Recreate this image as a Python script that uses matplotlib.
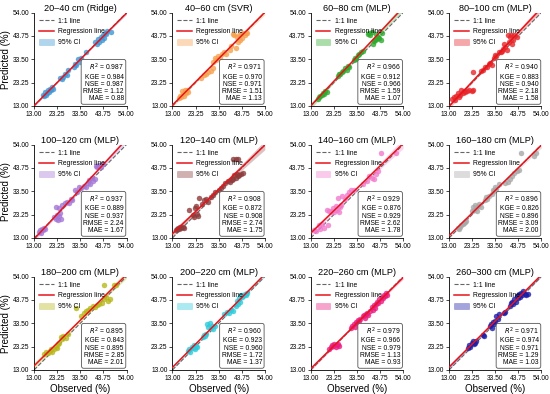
import numpy as np
import matplotlib
matplotlib.use("Agg")
from matplotlib import pyplot as plt
from matplotlib.patches import Patch
from matplotlib.lines import Line2D

plt.rcParams['font.family'] = ['Liberation Sans', 'DejaVu Sans']

titles = ["20–40 cm (Ridge)", "40–60 cm (SVR)", "60–80 cm (MLP)", "80–100 cm (MLP)",
          "100–120 cm (MLP)", "120–140 cm (MLP)", "140–160 cm (MLP)", "160–180 cm (MLP)",
          "180–200 cm (MLP)", "200–220 cm (MLP)", "220–260 cm (MLP)", "260–300 cm (MLP)"]

colors = ['#3f97d6', '#f7a14e', '#2eaa2e', '#e8262a', '#a477d6', '#8e3b3b',
          '#f27ccc', '#a8a8a8', '#b8b81c', '#2ccbdb', '#ea1c80', '#1c1ca8']

r2 = [0.987, 0.971, 0.966, 0.940, 0.937, 0.908, 0.929, 0.896, 0.895, 0.960, 0.979, 0.971]
kge = [0.984, 0.970, 0.912, 0.883, 0.889, 0.872, 0.876, 0.826, 0.843, 0.923, 0.966, 0.974]
nse = [0.987, 0.971, 0.966, 0.940, 0.937, 0.908, 0.929, 0.896, 0.895, 0.960, 0.979, 0.971]
rmse = [1.12, 1.51, 1.59, 2.18, 2.24, 2.74, 2.62, 3.09, 2.85, 1.72, 1.13, 1.29]
mae = [0.88, 1.13, 1.07, 1.58, 1.67, 1.75, 1.78, 2.00, 2.01, 1.37, 0.93, 1.03]

obs1 = [17.0,17.5,18.0,18.3,18.8,19.2,19.5,20.0,20.4,20.8,21.2, 24.5,25.2,26.0,26.8,27.5,28.2,
        30.5,31.0,31.8,32.5,33.2,33.8, 36.2, 40.2,40.8,41.5,42.0,42.5,43.0,43.5,44.0,44.5,45.0,45.5,47.2]
pred1 = [18.0,17.2,19.0,17.8,18.5,20.0,19.0,20.5,19.8,21.2,20.5, 25.5,24.8,25.8,27.0,26.5,28.8,
         30.0,31.5,30.8,33.5,32.5,34.0, 36.5, 41.0,40.0,42.5,41.2,43.5,42.0,44.2,43.0,45.0,44.5,46.0,45.5]

obs2 = [16.0,16.5,17.0,17.5,18.0,18.5,19.0,19.5,20.0,17.2,18.8, 25.8,27.0,28.0,29.0,30.0,31.0,
        31.0,31.8,32.5,33.2,34.0,35.0,36.0,36.8, 38.5,39.0,40.0,40.5,41.0,41.5,42.0,42.5,43.0,43.5,
        44.0,44.5,45.0,45.5,46.0]
pred2 = [16.5,17.5,16.8,18.2,17.5,19.0,18.5,20.0,19.2,19.5,20.2, 25.5,26.5,27.0,27.8,28.5,29.5,
         32.5,34.0,33.0,35.0,34.2,36.0,36.5,36.0, 37.5,39.5,44.5,44.0,38.5,43.5,41.0,44.2,42.0,44.5,
         43.0,45.0,44.0,45.2,45.0]

obs3 = [16.0,16.5,17.2,17.8,18.5,19.0,19.5,20.0, 25.0,25.5,26.2,27.0,27.5,28.2,29.0,29.5,30.0,
        32.0,32.5,33.2,34.0,34.5,35.2,36.0, 38.5,39.0,39.5,40.0,40.5,41.0,41.5,42.0,42.5,43.0,43.5,44.0,44.5]
pred3 = [16.2,17.0,17.5,18.0,18.8,18.2,19.5,19.0, 26.0,27.2,27.0,28.0,28.5,29.5,29.0,30.5,30.2,
         33.0,34.0,33.5,35.5,36.0,36.5,37.0, 44.5,45.0,44.2,45.5,40.0,41.5,42.0,44.5,42.5,43.5,43.0,42.0,45.0]

obs4 = [14.5,15.0,15.5,16.0,16.8,17.5,18.0,18.5,19.0,19.5,20.0,21.0,22.0,23.0,23.5,23.5,
        27.0,28.0,29.0,30.0,30.5,31.0,32.0, 33.0,33.5,34.0,35.0,36.0,36.5,
        37.0,37.5,38.0,38.5,39.0,39.5,40.0,40.5,41.0,41.5,42.0,43.0]
pred4 = [16.0,17.0,15.5,17.5,18.5,17.0,18.0,20.0,18.5,19.5,19.0,19.5,19.8,19.5,20.0,28.0,
         28.5,29.0,30.0,30.0,31.5,32.0,31.0, 34.0,35.5,35.0,36.5,36.5,37.0,
         38.0,40.0,39.0,37.5,44.0,41.0,43.5,44.0,40.0,42.0,44.0,43.5]

obs5 = [15.0,15.5,16.0,16.5,17.0,17.5,18.0, 22.0,22.5,23.0,23.5,24.0,24.5,25.0,22.5,24.0,
        25.5,26.5,27.5,28.5,29.5,30.0, 31.0,32.0,33.0,34.0,35.0, 36.0,37.0,37.5,38.0,38.5,39.0,40.0,
        40.5,41.0,41.5,42.0,42.5,43.5]
pred5 = [15.5,16.5,15.0,17.0,16.5,17.5,16.8, 22.0,21.5,23.0,21.0,22.5,24.0,21.5,26.5,26.0,
         27.5,28.5,29.0,28.5,30.0,29.5, 34.0,33.0,35.5,35.0,36.0, 35.5,37.0,38.5,36.5,39.5,38.0,39.0,
         44.5,44.0,44.5,45.0,44.0,45.5]

obs6 = [14.5,15.0,15.5,16.0,16.5,17.0,17.5,18.0, 20.5, 22.0,22.5,23.0,23.5,24.0,24.5,
        25.0,26.0,27.0,28.0,29.0,30.0,31.0, 32.0,33.5,34.5,35.5,36.5,37.5,38.5,
        39.5,40.0,40.5,41.0,41.5,42.0,42.5,43.5,44.5, 40.0,41.0,42.0]
pred6 = [16.5,17.0,17.5,16.8,18.0,17.2,17.8,17.5, 25.5, 23.0,22.0,26.0,27.0,23.5,22.5,
         30.5,28.0,29.5,30.0,29.0,31.0,32.0, 33.0,34.0,35.0,36.0,37.0,38.0,37.5,
         38.5,39.0,40.5,39.5,41.0,40.0,40.5,41.0,41.5, 47.5,47.5,47.8]

obs7 = [14.5,15.5,16.5,17.0,18.0,19.0,20.5, 20.0,21.0, 22.0,22.5,23.0,23.5,24.0,24.5,25.0,25.5,26.0,26.5,
        27.0,28.0,29.0,30.0,31.0,32.0, 36.0,38.0,39.0,40.0,41.0,42.0,43.0, 44.0,51.0]
pred7 = [16.5,16.0,18.5,17.0,19.0,17.5,18.5, 25.5,25.0, 24.5,25.0,26.0,24.5,27.0,25.5,30.5,24.5,26.5,27.5,
         31.5,30.0,32.0,33.0,34.0,34.0, 36.5,38.0,40.0,39.5,39.0,41.0,42.5, 50.5,50.5]

obs8 = [17.0,17.5,18.0,18.5,19.0,19.5,20.0,20.5, 23.0,23.5,24.0,24.5,25.0,25.5,26.0,26.5,27.0,
        29.0,29.5,30.0,30.5, 32.0,32.5,33.0,33.5,34.0,35.0, 38.0,39.0,40.0,41.0,42.0,43.0,44.0,
        45.0,51.5,50.5]
pred8 = [17.5,17.0,18.0,18.8,19.0,19.5,20.0,20.5, 25.0,26.5,25.5,27.5,26.0,25.0,27.0,28.0,26.5,
         29.5,31.0,30.0,31.5, 32.5,34.0,33.5,35.5,34.5,36.5, 37.0,37.5,39.0,40.0,41.5,42.5,43.0,
         50.5,50.5,49.0]

obs9 = [17.5,18.5,19.0,20.0,20.5,21.0,22.0,22.5, 23.0,23.5,24.0,25.0,25.5,26.0,27.0,28.0,
        31.5, 34.0,35.0,36.0,37.0,38.0,39.0,40.0, 41.0,42.0,43.0,44.0,45.0,46.0,46.5,
        44.0,48.5,49.5]
pred9 = [20.0,21.0,20.5,21.5,22.0,21.0,22.0,23.0, 22.5,24.5,25.0,27.5,26.5,28.0,27.0,29.0,
         40.0, 36.5,38.0,39.0,39.5,40.0,41.0,40.5, 41.5,42.0,42.5,44.0,45.0,43.5,44.0,
         50.5,50.5,50.5]

obs10 = [20.0,20.5,21.0,21.5,22.0,22.5,23.0,23.5,24.0, 26.5,27.0,27.5,28.0,28.5,29.0,29.5,30.0,30.5,31.0,
         32.0, 36.0,37.0,38.0,39.0,40.0, 41.0,41.5,42.0,42.5,43.0,43.5,44.0,44.5,45.0,45.5,46.0]
pred10 = [21.5,22.0,21.0,23.0,22.5,24.0,22.0,23.5,23.0, 27.5,28.5,28.0,29.0,33.0,32.0,33.5,31.5,32.5,31.0,
          32.5, 37.5,38.5,38.0,39.5,39.0, 41.0,43.5,42.0,44.5,43.0,46.0,45.0,45.5,46.5,46.0,47.0]

obs11 = [21.0,22.0,22.5,23.0,23.5,24.0,24.5,25.0,25.5, 31.0,31.5,32.0,32.5,33.0,33.5,34.0,34.5,35.0,
         36.0,36.5,37.0,37.5,38.0,38.5, 39.5,40.0,40.5,41.0,41.5,42.0,42.5,43.0,43.5,44.0,44.5,45.0,
         45.5,46.0,46.5,47.0]
pred11 = [22.0,23.0,24.0,23.5,24.5,23.0,24.0,24.5,23.5, 31.5,32.5,33.0,32.0,34.0,33.5,35.0,34.5,35.5,
          36.5,37.0,36.0,37.5,38.0,37.0, 39.0,40.5,39.5,41.5,40.0,42.0,43.0,42.5,44.0,43.5,45.0,44.5,
          46.0,45.5,47.0,46.0]

obs12 = [21.5,22.0,22.5,23.0,23.5,24.0,24.5,25.0, 28.0,28.5, 31.0,31.5,32.0,32.5,33.0,33.5,34.0,34.5,35.0,
         37.5,38.0, 40.0,40.5,41.0,41.5,42.0,42.5,43.0,43.5,44.0,44.5,45.0,45.5,46.0,46.5,47.0,48.0]
pred12 = [22.5,24.0,23.0,25.0,25.5,24.5,25.0,25.5, 28.5,28.0, 32.5,33.0,31.5,34.0,33.0,34.5,36.5,35.5,37.5,
          38.0,38.5, 41.0,42.5,43.0,42.0,44.0,43.0,45.5,44.5,46.5,45.0,47.0,46.0,47.5,46.5,46.0,46.5]

observed = [obs1, obs2, obs3, obs4, obs5, obs6, obs7, obs8, obs9, obs10, obs11, obs12]
predicted = [pred1, pred2, pred3, pred4, pred5, pred6, pred7, pred8, pred9, pred10, pred11, pred12]

ticks = [13.00, 23.25, 33.50, 43.75, 54.00]

fig = plt.figure(figsize=(5.5, 3.94), dpi=100)

for i in range(12):
    row, col = i // 4, i % 4
    ax = fig.add_axes([0.062 + col * 0.2515, [0.731, 0.396, 0.061][row], 0.168, 0.237])
    x = np.array(observed[i])
    y = np.array(predicted[i])
    c = colors[i]

    # regression with 95% CI
    b, a = np.polyfit(x, y, 1)
    xs = np.linspace(13, 54, 100)
    ys = a + b * xs
    n = len(x)
    resid = y - (a + b * x)
    s = np.sqrt(np.sum(resid ** 2) / (n - 2))
    se = s * np.sqrt(1.0 / n + (xs - x.mean()) ** 2 / np.sum((x - x.mean()) ** 2))
    ax.fill_between(xs, ys - 2.0 * se, ys + 2.0 * se, color=c, alpha=0.3, lw=0, zorder=1)

    ax.scatter(x, y, s=13, color=c, alpha=0.8, edgecolors=c, linewidths=0.3, zorder=3)
    ax.plot([13, 54], [13, 54], ls='--', color='#666666', lw=0.8, zorder=2)
    ax.plot(xs, ys, color='#e8141b', lw=1.1, zorder=4)

    ax.set_xlim(13, 54)
    ax.set_ylim(13, 54)
    ax.set_xticks(ticks)
    ax.set_yticks(ticks)
    ax.set_xticklabels(['%.2f' % t for t in ticks])
    ax.set_yticklabels(['%.2f' % t for t in ticks])
    ax.tick_params(labelsize=4.8, length=2, width=0.5, pad=1.5)
    for sp in ['top', 'right']:
        ax.spines[sp].set_visible(False)
    for sp in ['left', 'bottom']:
        ax.spines[sp].set_linewidth(0.6)
    ax.set_title(titles[i], fontsize=6.6, pad=1.5)
    if col == 0:
        ax.set_ylabel('Predicted (%)', fontsize=7, labelpad=1)
    if row == 2:
        ax.set_xlabel('Observed (%)', fontsize=7, labelpad=1.5)

    handles = [Line2D([], [], ls='--', color='#666666', lw=0.8),
               Line2D([], [], color='#e8141b', lw=1.1),
               Patch(facecolor=c, alpha=0.4, edgecolor=c, lw=0.4)]
    ax.legend(handles, ['1:1 line', 'Regression line', '95% CI'], loc='upper left',
              frameon=False, fontsize=4.9, handlelength=2.2, handleheight=0.9,
              labelspacing=0.55, borderaxespad=0.3, handletextpad=0.6)

    txt = ("$R^2$ = %.3f\nKGE = %.3f\nNSE = %.3f\nRMSE = %.2f\nMAE = %.2f"
           % (r2[i], kge[i], nse[i], rmse[i], mae[i]))
    ax.text(0.97, 0.04, txt, transform=ax.transAxes, ha='right', va='bottom',
            fontsize=4.9, linespacing=1.05, zorder=5,
            bbox=dict(boxstyle='round,pad=0.3', facecolor='white', edgecolor='#555555', lw=0.6))

plt.savefig('out.png', dpi=100)
